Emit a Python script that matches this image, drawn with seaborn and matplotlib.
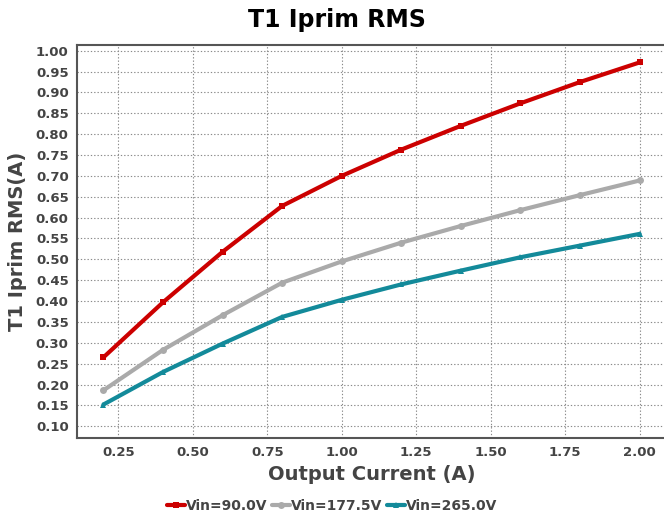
import pandas as pd
import numpy as np
import matplotlib
matplotlib.use("Agg")
import matplotlib.pyplot as plt
import seaborn as sns

# data
current = [0.2, 0.4, 0.6, 0.8, 1.0, 1.2, 1.4, 1.6, 1.8, 2.0]
vin_labels = ["Vin=90.0V", "Vin=177.5V", "Vin=265.0V"]
irms_90 = [0.265, 0.397, 0.518, 0.628, 0.700, 0.763, 0.820, 0.874, 0.925, 0.972]
irms_177 = [0.186, 0.283, 0.366, 0.444, 0.495, 0.540, 0.580, 0.618, 0.654, 0.689]
irms_265 = [0.152, 0.230, 0.298, 0.362, 0.403, 0.440, 0.473, 0.505, 0.533, 0.561]
y_ticks = [0.10, 0.15, 0.20, 0.25, 0.30, 0.35, 0.40, 0.45, 0.50, 0.55,
           0.60, 0.65, 0.70, 0.75, 0.80, 0.85, 0.90, 0.95, 1.00]
x_ticks = [0.25, 0.50, 0.75, 1.00, 1.25, 1.50, 1.75, 2.00]

colors = ["#cc0000", "#aaaaaa", "#138a9a"]
markers = ["s", "o", "^"]

df = pd.concat([
    pd.DataFrame({"current": current, "irms": vals, "vin": lab})
    for lab, vals in zip(vin_labels, [irms_90, irms_177, irms_265])
])

sns.set_style("white")
plt.rcParams["font.family"] = ["DejaVu Sans"]

fig = plt.figure(figsize=(6.64, 5.14), dpi=100)
ax = fig.add_axes([0.116, 0.148, 0.887, 0.765])

sns.lineplot(data=df, x="current", y="irms", hue="vin", style="vin",
             palette=dict(zip(vin_labels, colors)),
             markers=dict(zip(vin_labels, markers)),
             dashes=False, linewidth=3, markersize=5, markeredgewidth=0,
             ax=ax, legend=True)

ax.set_xlim(0.1115, 2.0885)
ax.set_ylim(0.072, 1.0144)
ax.set_xticks(x_ticks)
ax.set_xticklabels([f"{t:.2f}" for t in x_ticks])
ax.set_yticks(y_ticks)
ax.set_yticklabels([f"{t:.2f}" for t in y_ticks])
ax.tick_params(axis="both", labelsize=9.5, colors="#444444", length=0, pad=6)
for lab in ax.get_xticklabels() + ax.get_yticklabels():
    lab.set_fontweight("bold")

ax.grid(True, linestyle=(0, (1.2, 1.8)), color="#8a8a8a", linewidth=0.8)
for side in ["left", "bottom", "top"]:
    ax.spines[side].set_color("#555555")
    ax.spines[side].set_linewidth(1.5)
ax.spines["right"].set_visible(False)

fig.suptitle("T1 Iprim RMS", x=0.507, y=0.985, fontsize=17, fontweight="bold", color="black")
ax.set_xlabel("Output Current (A)", fontsize=14, fontweight="bold", color="#444444", labelpad=4)
ax.set_ylabel("T1 Iprim RMS(A)", fontsize=14, fontweight="bold", color="#444444", labelpad=6)

handles, labels = ax.get_legend_handles_labels()
leg = ax.legend(handles, labels, loc="center", bbox_to_anchor=(0.5, 0.016),
                bbox_transform=fig.transFigure, ncol=3, frameon=False,
                handlelength=1.3, handletextpad=0.1, columnspacing=0.3,
                prop={"weight": "bold", "size": 10})
for t in leg.get_texts():
    t.set_color("#444444")

fig.savefig("out.png", dpi=100)
